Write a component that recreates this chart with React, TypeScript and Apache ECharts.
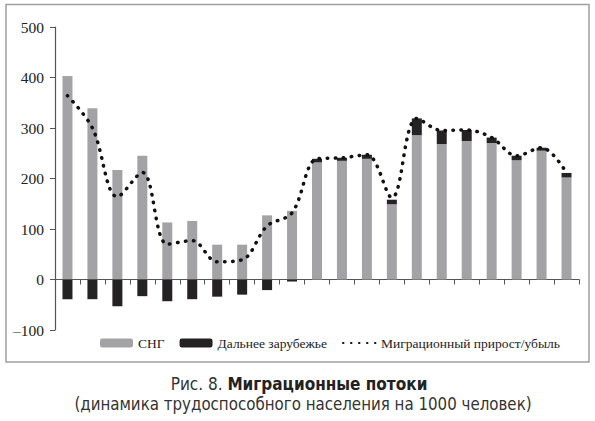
import React, { useEffect, useRef } from "react";
import * as echarts from "echarts";

const categories = ["1","2","3","4","5","6","7","8","9","10","11","12","13","14","15","16","17","18","19","20","21"];
const cisValues = [403, 339, 217, 245, 113, 116, 69, 69, 127, 136, 232, 235, 239, 149, 286, 268, 274, 270, 236, 255, 202];
const farValues = [-39, -39, -53, -33, -43, -39, -34, -30, -21, -4, 7, 6, 8, 9, 33, 27, 22, 11, 9, 6, 9];
const netValues = [364, 300, 164, 212, 70, 77, 35, 39, 106, 132, 239, 241, 247, 162, 319, 295, 296, 281, 245, 261, 211];
const yTicks = { min: -100, max: 500, interval: 100 };

const seriesNames = ["СНГ", "Дальнее зарубежье", "Миграционный прирост/убыль"];
const captionTitle = "Миграционные потоки";
const captionPrefix = "Рис. 8. ";
const captionSub = "(динамика трудоспособного населения на 1000 человек)";

const SERIF = "'Liberation Serif', 'DejaVu Serif', serif";
const NARROW = "'DejaVu Sans Condensed', 'Roboto', sans-serif";

export default function App() {
  const ref = useRef<HTMLDivElement>(null);
  useEffect(() => {
    document.body.style.margin = "0";
    const chart = echarts.init(ref.current!, null, { renderer: "svg" });
    chart.setOption({
      animation: false,
      backgroundColor: "#ffffff",
      graphic: [
        {
          type: "rect",
          shape: { x: 6, y: 4.5, width: 583, height: 357.5 },
          style: { fill: "none", stroke: "#a0a0a0", lineWidth: 1.5 },
          silent: true,
        },
        {
          type: "text",
          x: 299,
          y: 384,
          style: {
            text: `{n|${captionPrefix}}{b|${captionTitle}}`,
            align: "center",
            verticalAlign: "middle",
            rich: {
              n: { fontFamily: NARROW, fontSize: 17, fill: "#333", fontWeight: "normal" },
              b: { fontFamily: NARROW, fontSize: 17, fill: "#222", fontWeight: "bold" },
            },
          },
          silent: true,
        },
        {
          type: "text",
          x: 303,
          y: 404,
          scaleX: 0.985,
          style: {
            text: captionSub,
            align: "center",
            verticalAlign: "middle",
            fontFamily: NARROW,
            fontSize: 17,
            fill: "#333",
          },
          silent: true,
        },
      ],
      legend: {
        left: 95,
        top: 331,
        itemWidth: 33,
        itemHeight: 9,
        itemGap: 15,
        textStyle: { fontFamily: SERIF, fontSize: 13.5, color: "#222" },
        data: [
          { name: seriesNames[0] },
          { name: seriesNames[1] },
          { name: seriesNames[2], itemStyle: { opacity: 0 } },
        ],
      },
      grid: { left: 55, right: 16, top: 27, bottom: 91, containLabel: false },
      xAxis: {
        type: "category",
        data: categories,
        boundaryGap: true,
        axisLine: { onZero: true, lineStyle: { color: "#555", width: 1.2 } },
        axisTick: { show: true, alignWithLabel: false, length: 5, lineStyle: { color: "#555" } },
        axisLabel: { show: false },
        splitLine: { show: false },
      },
      yAxis: {
        type: "value",
        min: yTicks.min,
        max: yTicks.max,
        interval: yTicks.interval,
        axisLine: { show: true, lineStyle: { color: "#555", width: 1.2 } },
        axisTick: { show: true, length: 5, lineStyle: { color: "#555" } },
        axisLabel: {
          margin: 11,
          fontFamily: SERIF,
          fontSize: 15.5,
          color: "#222",
          formatter: (v: number) => String(v).replace("-", "–"),
        },
        splitLine: { show: false },
      },
      series: [
        {
          name: seriesNames[0],
          type: "bar",
          stack: "total",
          data: cisValues,
          barWidth: 10,
          itemStyle: { color: "#a3a3a6" },
        },
        {
          name: seriesNames[1],
          type: "bar",
          stack: "total",
          data: farValues,
          barWidth: 10,
          itemStyle: { color: "#252223" },
        },
        {
          name: seriesNames[2],
          type: "line",
          data: netValues,
          smooth: 0.35,
          symbol: "none",
          showSymbol: false,
          itemStyle: { color: "#111" },
          lineStyle: { color: "#111", width: 3.5, type: [0.5, 7.5], cap: "round" },
          z: 5,
        },
      ],
    });
    return () => chart.dispose();
  }, []);
  return <div ref={ref} style={{ width: 595, height: 421 }} />;
}
